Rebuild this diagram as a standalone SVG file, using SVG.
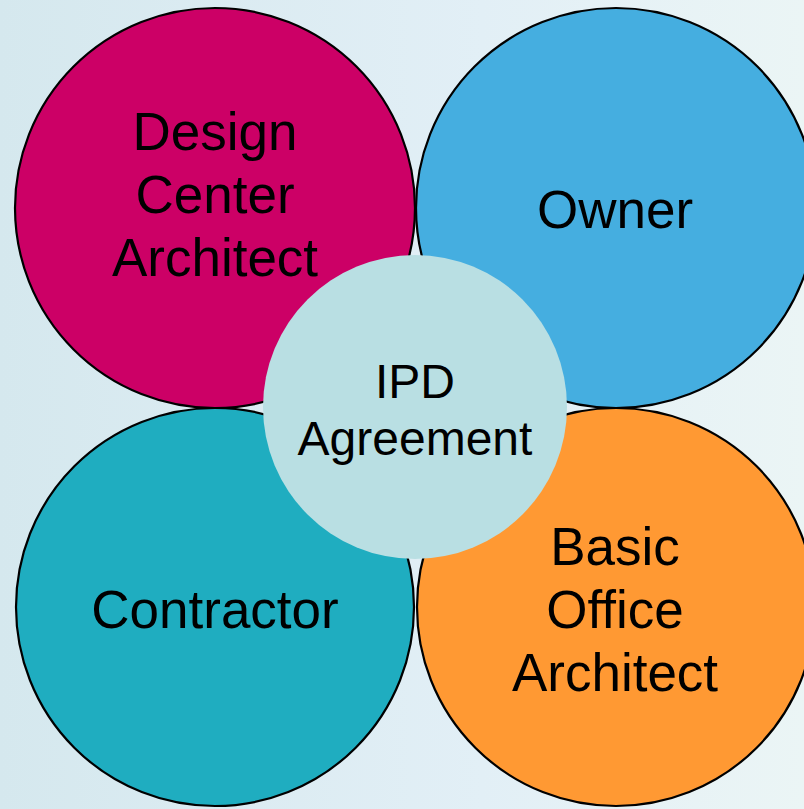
<svg xmlns="http://www.w3.org/2000/svg" width="804" height="809" viewBox="0 0 804 809">
  <defs>
    <linearGradient id="bg" x1="0" y1="0" x2="1" y2="0">
      <stop offset="0" stop-color="#d5e8ee"/>
      <stop offset="0.6" stop-color="#e2eff6"/>
      <stop offset="1" stop-color="#ebf5f5"/>
    </linearGradient>
  </defs>
  <style>
    .petal { stroke: #000; stroke-width: 2.2; }
    .hub { fill: #b9dfe3; }
    .label { font-family: "Liberation Sans", Arial, sans-serif; font-size: 53px; fill: #000; text-anchor: middle; }
    .hub-label { font-size: 48px; }
  </style>
  <rect width="804" height="809" fill="url(#bg)"/>

  <g id="design-center-architect">
    <circle class="petal" cx="215" cy="208" r="200" fill="#cc0066"/>
    <text class="label" x="215" y="150">Design</text>
    <text class="label" x="215" y="213">Center</text>
    <text class="label" x="215" y="276">Architect</text>
  </g>
  <g id="owner">
    <circle class="petal" cx="616" cy="208" r="200" fill="#45aee0"/>
    <text class="label" x="615" y="228">Owner</text>
  </g>
  <g id="contractor">
    <circle class="petal" cx="215" cy="607" r="199" fill="#1fadc0"/>
    <text class="label" x="215" y="628">Contractor</text>
  </g>
  <g id="basic-office-architect">
    <circle class="petal" cx="616" cy="607" r="199" fill="#ff9933"/>
    <text class="label" x="615" y="565">Basic</text>
    <text class="label" x="615" y="628">Office</text>
    <text class="label" x="615" y="691">Architect</text>
  </g>
  <g id="ipd-agreement">
    <circle class="hub" cx="415" cy="407" r="152"/>
    <text class="label hub-label" x="415" y="398">IPD</text>
    <text class="label hub-label" x="415" y="455">Agreement</text>
  </g>
  <g id="connectors"/>
</svg>
